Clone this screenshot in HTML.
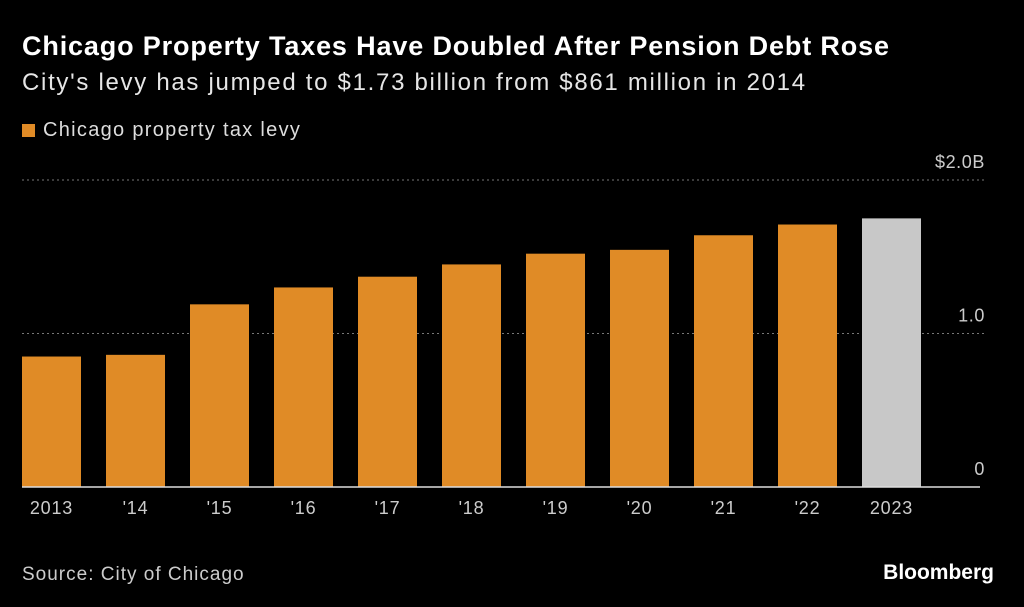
<!DOCTYPE html>
<html><head><meta charset="utf-8"><style>
body{margin:0;background:#000;width:1024px;height:607px;overflow:hidden;font-family:"Liberation Sans",sans-serif;color:#fff}
.t{position:absolute;left:22px;top:31px;font-size:27px;font-weight:bold;letter-spacing:0.85px;white-space:nowrap}
.s{position:absolute;left:22px;top:69px;font-size:24px;color:#e6e6e6;letter-spacing:1.7px;white-space:nowrap}
.l{position:absolute;left:22px;top:119px;font-size:20px;color:#ddd;letter-spacing:1.3px;white-space:nowrap}
.l i{display:inline-block;width:13px;height:13px;background:#e08b26;margin-right:8px;vertical-align:-1px}
.src{position:absolute;left:22px;top:564px;font-size:19px;color:#ccc;letter-spacing:1px}
.bb{position:absolute;right:30px;top:561px;font-size:21px;font-weight:bold}
</style></head><body>
<div class="t">Chicago Property Taxes Have Doubled After Pension Debt Rose</div>
<div class="s">City's levy has jumped to $1.73 billion from $861 million in 2014</div>
<div class="l"><i></i>Chicago property tax levy</div>
<svg id="c" width="1024" height="607" style="position:absolute;left:0;top:0"></svg>
<div class="src">Source: City of Chicago</div>
<div class="bb">Bloomberg</div>
<script>
const categories=["2013","'14","'15","'16","'17","'18","'19","'20","'21","'22","2023"];
const values=[0.85,0.861,1.19,1.30,1.37,1.45,1.52,1.545,1.64,1.71,1.75];
const ticks=[0,1,2];
const tickLabels=["0","1.0","$2.0B"];
const svg=document.getElementById('c');const ns='http://www.w3.org/2000/svg';
const y=v=>487-v*153.5;const x=i=>22+i*84;const bw=59;
function mk(t,a){const e=document.createElementNS(ns,t);for(const k in a)e.setAttribute(k,a[k]);svg.appendChild(e);return e;}
ticks.forEach((t,i)=>{
 if(t>0){const g=mk('line',{x1:22,x2:985,y1:y(t),y2:y(t),stroke:'#777','stroke-dasharray':'2,3'});
 
 }
 const tx=mk('text',{x:985,y:y(t)-12,'text-anchor':'end',fill:'#ccc','font-size':18,'letter-spacing':0.6,'font-family':'Liberation Sans'});
 tx.textContent=tickLabels[i];
 
 
});
values.forEach((v,i)=>{
 const r=mk('rect',{x:x(i),y:y(v),width:bw,height:487-y(v),fill:i==values.length-1?'#c8c8c8':'#e08b26'});
 
 
 const tx=mk('text',{x:x(i)+bw/2,y:514,'text-anchor':'middle',fill:'#ccc','font-size':18,'letter-spacing':0.8,'font-family':'Liberation Sans'});
 tx.textContent=categories[i];
 
 
});
const ax=mk('line',{x1:22,x2:980,y1:487,y2:487,stroke:'#ddd','stroke-width':1.5});


</script>
</body></html>
